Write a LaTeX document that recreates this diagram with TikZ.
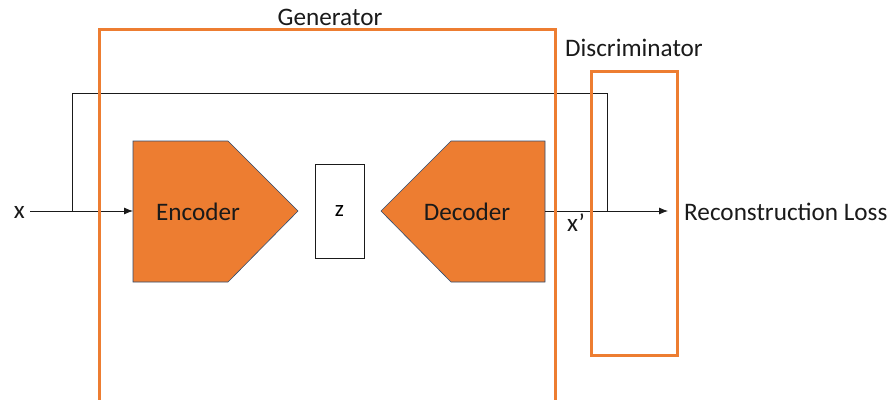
\documentclass[tikz,border=0pt]{standalone}
\usepackage{fontspec}
\setmainfont{Carlito}
\usetikzlibrary{arrows.meta}
\definecolor{accent}{HTML}{ED7D31}
\definecolor{shapeedge}{HTML}{2F4B6E}
\definecolor{ink}{HTML}{1A1A1A}
\begin{document}
\begin{tikzpicture}[x=1pt,y=-1pt,
  lbl/.style={font=\fontsize{25.2}{29}\selectfont, text=ink, inner sep=0pt},
  frame/.style={draw=accent, line width=3pt},
  block/.style={fill=accent, draw=shapeedge, line width=0.6pt},
  wire/.style={draw=ink, line width=0.8pt},
  flow/.style={wire, -{Latex[length=9pt,width=7pt]}}]
\useasboundingbox (0,0) rectangle (894,399);

% encoder and decoder outlines
\path[block] (133,141) -- (228,141) -- (298,211) -- (228,282) -- (133,282) -- cycle;
\path[block] (545,141) -- (451,141) -- (381,211) -- (451,282) -- (545,282) -- cycle;
\coordinate (encin) at (133,211);
\coordinate (decout) at (545,211);
\node[lbl] (enc) at (198,212) {Encoder};
\node[lbl] (dec) at (467,212) {Decoder};

% latent code
\node[draw=ink, line width=0.8pt, minimum width=49pt, minimum height=94pt, inner sep=0pt,
      font=\fontsize{23}{27}\selectfont] (z) at (339.5,211) {z};

% input and skip path
\node[lbl, anchor=east] (x) at (25,212) {x};
\coordinate (split) at (72,211);
\coordinate (tl) at (72,93);
\coordinate (tr) at (607,93);
\coordinate (join) at (607,211);
\coordinate (lossin) at (668,211);
\draw[flow] (x.east) ++(5,-1) -- (encin);
\draw[wire] (split) -- (tl) -- (tr) -- (join);
\draw[flow] (decout) -- (lossin);
\node[lbl, anchor=west] (loss) at (684,212) {Reconstruction Loss};
\node[lbl] (xp) at (576,223) {x’};

% generator and discriminator frames
\draw[frame] (99,29) rectangle (555,405);
\draw[frame] (591,71) rectangle (677,355);
\node[lbl] (gen) at (330,17) {Generator};
\node[lbl] (disc) at (634,48) {Discriminator};
\end{tikzpicture}
\end{document}
